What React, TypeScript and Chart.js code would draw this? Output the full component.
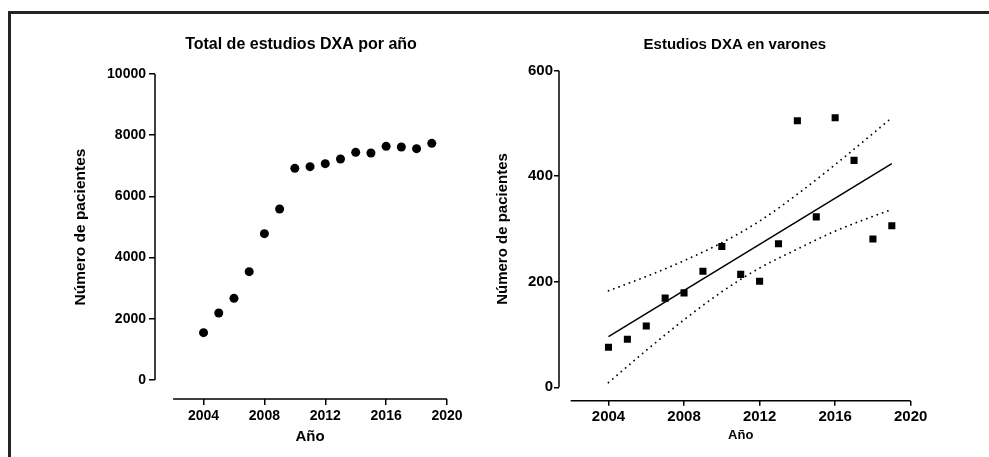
import { useEffect, useRef } from "react";
import { Chart, registerables } from "chart.js";

Chart.register(...registerables);

// ---------- data ----------
const years = [2004, 2005, 2006, 2007, 2008, 2009, 2010, 2011, 2012, 2013, 2014, 2015, 2016, 2017, 2018, 2019];
const totalStudies = [1547, 2190, 2669, 3540, 4782, 5588, 6917, 6972, 7070, 7222, 7440, 7418, 7636, 7614, 7560, 7734];
const maleStudies = [76, 91, 116, 169, 179, 220, 267, 214, 201, 272, 505, 323, 511, 430, 281, 306];
const fitYears = [2004, 2019];
const fitValues = [96, 424];
const bandYears = [2004, 2006, 2008, 2010, 2012, 2014, 2016, 2018, 2019];
const upperBand = [183, 210, 240, 274, 315, 366, 422, 481, 511];
const lowerBand = [9, 70, 128, 181, 226, 262, 296, 324, 337];
const xTicks = [2004, 2008, 2012, 2016, 2020];
const leftYTicks = [0, 2000, 4000, 6000, 8000, 10000];
const rightYTicks = [0, 200, 400, 600];

const leftTitle = "Total de estudios DXA por año";
const rightTitle = "Estudios DXA en varones";
const yTitle = "Número de pacientes";
const xTitle = "Año";

const FONT = "'Liberation Sans', Arial, sans-serif";

const offsetAxesPlugin = {
  id: "offsetAxes",
  afterDraw(chart: any, _args: any, opts: any) {
    const { ctx, chartArea, scales } = chart;
    const x = scales.x;
    const y = scales.y;
    const y0 = y.getPixelForValue(opts.yFrom);
    const y1 = y.getPixelForValue(opts.yTo);
    const x0 = x.getPixelForValue(opts.xFrom);
    const x1 = x.getPixelForValue(opts.xTo);
    ctx.save();
    ctx.strokeStyle = "#000";
    ctx.lineWidth = opts.lineWidth;
    ctx.beginPath();
    ctx.moveTo(chartArea.left, y0);
    ctx.lineTo(chartArea.left, y1);
    ctx.moveTo(x0, chartArea.bottom);
    ctx.lineTo(x1, chartArea.bottom);
    ctx.stroke();
    ctx.fillStyle = "#000";
    ctx.textAlign = "center";
    ctx.textBaseline = "middle";
    // chart title
    ctx.font = `bold ${opts.titleSize}px ${FONT}`;
    ctx.fillText(opts.title, (chartArea.left + x1) / 2, opts.titleY);
    // x axis title
    ctx.font = `bold ${opts.xTitleSize}px ${FONT}`;
    ctx.fillText(xTitle, (x0 + x1) / 2, opts.xTitleY);
    // y axis title
    ctx.font = `bold ${opts.yTitleSize}px ${FONT}`;
    ctx.translate(opts.yTitleX, (y0 + y1) / 2);
    ctx.rotate(-Math.PI / 2);
    ctx.fillText(yTitle, 0, 0);
    ctx.restore();
  },
};

function makeOptions(p: any) {
  return {
    animation: false,
    responsive: false,
    devicePixelRatio: 1,
    layout: { padding: p.padding },
    plugins: {
      legend: { display: false },
      tooltip: { enabled: false },
      offsetAxes: p.axes,
    },
    scales: {
      x: {
        type: "linear",
        min: p.xMin,
        max: 2020,
        afterBuildTicks: (s: any) => {
          s.ticks = xTicks.map((v) => ({ value: v }));
        },
        afterFit: (s: any) => {
          s.height = p.xHeight;
        },
        border: { display: false },
        grid: { drawOnChartArea: false, drawTicks: true, tickLength: p.tickLen, color: "#000", lineWidth: 1.5 },
        ticks: {
          color: "#000",
          padding: p.xTickPad,
          maxRotation: 0,
          font: { family: FONT, size: p.xTickSize, weight: "bold" },
          callback: (v: any) => String(v),
        },
        title: { display: false },
      },
      y: {
        type: "linear",
        min: p.yMin,
        max: p.yMax,
        afterBuildTicks: (s: any) => {
          s.ticks = p.yTicks.map((v: number) => ({ value: v }));
        },
        afterFit: (s: any) => {
          s.width = p.yWidth;
        },
        border: { display: false },
        grid: { drawOnChartArea: false, drawTicks: true, tickLength: p.tickLen, color: "#000", lineWidth: 1.5 },
        ticks: {
          color: "#000",
          padding: p.yTickPad,
          font: { family: FONT, size: p.yTickSize, weight: "bold" },
          callback: (v: any) => String(v),
        },
        title: { display: false },
      },
    },
  };
}

function LeftChart() {
  const ref = useRef<HTMLCanvasElement>(null);
  useEffect(() => {
    const chart = new Chart(ref.current as HTMLCanvasElement, {
      type: "scatter",
      data: {
        datasets: [
          {
            data: years.map((yr, i) => ({ x: yr, y: totalStudies[i] })),
            pointStyle: "circle",
            pointRadius: 4.5,
            backgroundColor: "#000",
            borderColor: "#000",
            borderWidth: 0,
          },
        ],
      },
      options: makeOptions({
        padding: { left: 66, top: 74, right: 47, bottom: 8 },
        xMin: 2000.81,
        yMin: -621,
        yMax: 10000,
        yTicks: leftYTicks,
        xHeight: 50,
        yWidth: 89,
        tickLen: 6,
        xTickPad: 3,
        yTickPad: 3,
        xTickSize: 14,
        yTickSize: 14,
        axes: {
          lineWidth: 1.5, yFrom: 0, yTo: 10000, xFrom: 2002, xTo: 2020,
          title: leftTitle, titleSize: 16, titleY: 45,
          xTitleSize: 15, xTitleY: 436.5,
          yTitleSize: 15.5, yTitleX: 80.5,
        },
      }) as any,
      plugins: [offsetAxesPlugin],
    });
    return () => chart.destroy();
  }, []);
  return <canvas ref={ref} width={494} height={457} style={{ position: "fixed", left: 0, top: 0 }} />;
}

function RightChart() {
  const ref = useRef<HTMLCanvasElement>(null);
  useEffect(() => {
    const lineStyle = { showLine: true, pointRadius: 0, borderColor: "#000", backgroundColor: "#000" };
    const chart = new Chart(ref.current as HTMLCanvasElement, {
      type: "scatter",
      data: {
        datasets: [
          {
            ...lineStyle,
            data: bandYears.map((yr, i) => ({ x: yr, y: upperBand[i] })),
            borderWidth: 1.8,
            borderDash: [0.1, 5.5],
            borderCapStyle: "round",
            cubicInterpolationMode: "monotone",
          },
          {
            ...lineStyle,
            data: bandYears.map((yr, i) => ({ x: yr, y: lowerBand[i] })),
            borderWidth: 1.8,
            borderDash: [0.1, 5.5],
            borderCapStyle: "round",
            cubicInterpolationMode: "monotone",
          },
          {
            ...lineStyle,
            data: fitYears.map((yr, i) => ({ x: yr, y: fitValues[i] })),
            borderWidth: 1.5,
          },
          {
            data: years.map((yr, i) => ({ x: yr, y: maleStudies[i] })),
            pointStyle: "rect",
            pointRadius: 5,
            backgroundColor: "#000",
            borderColor: "#000",
            borderWidth: 0,
          },
        ],
      },
      options: makeOptions({
        padding: { left: 10, top: 70.7, right: 78.3, bottom: 10.3 },
        xMin: 2001.38,
        yMin: -25.4,
        yMax: 600,
        yTicks: rightYTicks,
        xHeight: 46,
        yWidth: 69,
        tickLen: 5,
        xTickPad: 2,
        yTickPad: 1,
        xTickSize: 15,
        yTickSize: 15,
        axes: {
          lineWidth: 1.5, yFrom: 0, yTo: 600, xFrom: 2002, xTo: 2020,
          title: rightTitle, titleSize: 15, titleY: 45,
          xTitleSize: 13, xTitleY: 435,
          yTitleSize: 15, yTitleX: 23,
        },
      }) as any,
      plugins: [offsetAxesPlugin],
    });
    return () => chart.destroy();
  }, []);
  return <canvas ref={ref} width={509} height={457} style={{ position: "fixed", left: 480, top: 0 }} />;
}

export default function App() {
  return (
    <div>
      <div
        style={{
          position: "fixed",
          left: 8,
          top: 11,
          right: -20,
          bottom: -20,
          borderTop: "3px solid #232323",
          borderLeft: "3px solid #232323",
        }}
      />
      <LeftChart />
      <RightChart />
    </div>
  );
}
